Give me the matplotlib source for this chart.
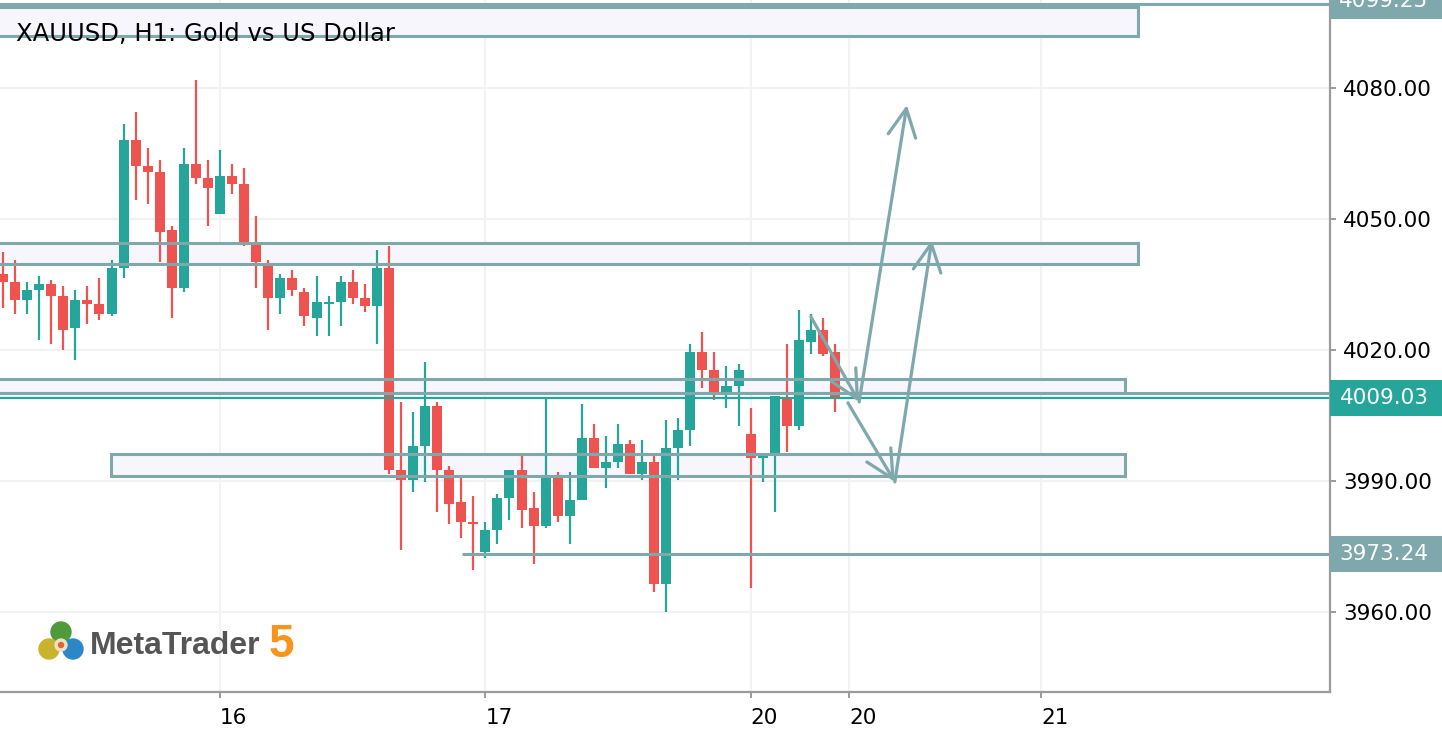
import matplotlib
matplotlib.use("Agg")
import matplotlib.pyplot as plt
import matplotlib.transforms as mtransforms
from matplotlib import font_manager
from matplotlib.patches import Rectangle, Circle
import numpy as np

# hourly candles XAUUSD H1
opens = [4037.4, 4035.6, 4031.5, 4033.7, 4035.1, 4032.4, 4025.0, 4031.5, 4030.5, 4028.2,
         4038.8, 4068.1, 4062.1, 4060.8, 4047.5, 4034.2, 4062.6, 4059.4, 4051.1, 4059.8,
         4058.0, 4044.5, 4039.2, 4031.9, 4036.5, 4033.3, 4027.3, 4030.5, 4031.0, 4035.6,
         4031.9, 4030.1, 4038.8, 3992.5, 3990.2, 3998.0, 4007.2, 3992.5, 3985.2, 3980.6,
         3973.7, 3978.8, 3986.1, 3992.5, 3983.8, 3979.7, 3990.7, 3982.0, 3985.7, 3999.9,
         3993.0, 3994.4, 3998.5, 3991.6, 3994.4, 3966.4, 3997.6, 4001.7, 4019.5, 4015.4,
         4010.4, 4011.8, 4000.8, 3995.3, 3996.2, 4009.0, 4002.6, 4021.8, 4024.6, 4019.5]
highs = [4042.4, 4040.6, 4035.6, 4037.0, 4036.0, 4034.7, 4033.7, 4034.7, 4036.5, 4040.6,
         4071.8, 4074.5, 4066.3, 4063.5, 4048.4, 4066.3, 4081.8, 4063.5, 4065.8, 4062.6,
         4061.7, 4050.7, 4040.6, 4037.4, 4038.3, 4034.2, 4037.0, 4032.4, 4037.0, 4038.3,
         4035.1, 4042.9, 4043.8, 4008.1, 4005.8, 4017.3, 4008.1, 3993.4, 3990.7, 3986.6,
         3980.6, 3987.0, 3992.5, 3995.7, 3987.5, 4009.0, 3992.1, 3992.1, 4007.6, 4003.1,
         4000.3, 4003.1, 3999.4, 3999.4, 3995.7, 4004.0, 4004.4, 4021.4, 4024.1, 4019.5,
         4016.3, 4016.8, 4006.7, 3995.7, 4009.5, 4021.4, 4029.2, 4028.2, 4027.3, 4021.4]
lows = [4029.6, 4028.2, 4028.2, 4022.3, 4021.4, 4020.0, 4017.7, 4026.0, 4026.9, 4027.8,
        4036.5, 4054.4, 4053.4, 4040.2, 4027.3, 4033.3, 4058.0, 4048.4, 4051.1, 4055.7,
        4043.8, 4034.2, 4024.6, 4028.2, 4032.4, 4025.5, 4023.2, 4023.2, 4025.5, 4030.5,
        4028.7, 4021.4, 3991.6, 3974.2, 3987.5, 3989.8, 3982.9, 3980.2, 3977.0, 3969.6,
        3972.4, 3975.6, 3981.1, 3979.2, 3971.0, 3979.2, 3980.6, 3975.6, 3985.7, 3993.0,
        3988.4, 3993.0, 3991.6, 3990.2, 3964.6, 3960.0, 3990.2, 3998.0, 4011.3, 4008.5,
        4006.7, 4002.6, 3965.5, 3989.8, 3982.9, 3996.6, 4001.7, 4019.1, 4018.6, 4005.8]
closes = [4035.6, 4031.5, 4033.7, 4035.1, 4032.4, 4024.6, 4031.5, 4030.5, 4028.2, 4038.8,
          4068.1, 4062.1, 4060.8, 4047.0, 4034.2, 4062.6, 4059.4, 4057.1, 4059.8, 4058.0,
          4044.5, 4040.2, 4031.9, 4036.5, 4033.7, 4027.8, 4031.0, 4031.0, 4035.6, 4031.9,
          4030.1, 4038.8, 3992.5, 3990.2, 3998.0, 4007.2, 3992.5, 3984.7, 3980.6, 3980.2,
          3978.8, 3986.1, 3992.5, 3983.4, 3979.7, 3990.7, 3982.0, 3985.7, 3999.9, 3993.0,
          3994.4, 3998.5, 3991.6, 3994.4, 3966.4, 3997.6, 4001.7, 4019.5, 4015.4, 4010.4,
          4011.8, 4015.4, 3995.3, 3995.7, 4009.5, 4002.6, 4022.3, 4024.6, 4019.1, 4009.03]

y_ticks = [3960, 3990, 4020, 4050, 4080]
x_tick_pos = [18, 40, 62, 70.16, 86.08]
x_tick_labels = ["16", "17", "20", "20", "21"]

# drawn objects: zones (left, right, bottom, top) and levels
zones = [(-5, 94.13, 4091.9, 4098.5),
         (-5, 94.13, 4039.7, 4044.5),
         (-5, 93.05, 4010.1, 4013.4),
         (8.96, 93.05, 3991.1, 3996.2)]
bid = 4009.03
level_low = 3973.24
level_low_start = 38.07
level_top = 4099.25
level_mid = 4010.1
arrows_a = [(67.0, 4027.6), (71.0, 4008.1), (74.96, 4076.1)]
arrows_b = [(70.07, 4007.9), (73.96, 3989.8), (77.03, 4045.2)]

GREEN = "#26a69a"
RED = "#ef5350"
LINE = "#7fa8ad"
FILL = "#f6f6fc"

W, H = 1442, 740
fig = plt.figure(figsize=(W / 100, H / 100), dpi=100)
ax = fig.add_axes([0, 48 / H, 1330 / W, 692 / H])
ax.set_xlim(-0.25, 110.05)
ax.set_ylim(3941.68, 4100.15)

# grid
ax.set_axisbelow(True)
ax.grid(True, color="#f2f2f2", lw=1.5)

# zone fills behind the candles
for x0, x1, y0, y1 in zones:
    ax.add_patch(Rectangle((x0, y0), x1 - x0, y1 - y0, facecolor=FILL,
                           edgecolor="none", zorder=1))

# candles
idx = np.arange(len(opens))
o = np.array(opens)
c = np.array(closes)
cols = [GREEN if cc >= oo else RED for oo, cc in zip(o, c)]
ax.vlines(idx, lows, highs, colors=cols, lw=1.6, zorder=2)
body = np.where(np.abs(c - o) < 0.5, 0.5, np.abs(c - o))
ax.bar(idx, body, bottom=np.minimum(o, c), width=0.83, color=cols, zorder=3)

# zone outlines
for x0, x1, y0, y1 in zones:
    ax.add_patch(Rectangle((x0, y0), x1 - x0, y1 - y0, facecolor="none",
                           edgecolor=LINE, lw=2.2, zorder=4))

ax.axhline(level_top, color=LINE, lw=2.2, zorder=4)
ax.axhline(level_mid, color=LINE, lw=2.2, zorder=4)
ax.axhline(bid, color=GREEN, lw=1.6, zorder=4)
ax.hlines(level_low, level_low_start, 111, color=LINE, lw=2.2, zorder=4)

# projected path arrows
for path in (arrows_a, arrows_b):
    for p0, p1 in zip(path[:-1], path[1:]):
        ax.annotate("", xy=p1, xytext=p0,
                    arrowprops=dict(arrowstyle="->,head_length=1.0,head_width=0.5",
                                    color=LINE, lw=2.3, shrinkA=0, shrinkB=0,
                                    mutation_scale=20),
                    zorder=5)

# axes styling
for s in ["top", "left"]:
    ax.spines[s].set_visible(False)
for s in ["right", "bottom"]:
    ax.spines[s].set_color("#9b9b9b")
    ax.spines[s].set_linewidth(1.6)
    ax.spines[s].set_zorder(6)

ax.yaxis.tick_right()
ax.set_yticks(y_ticks)
ax.set_yticklabels([f"{v:.2f}" for v in y_ticks])
ax.tick_params(axis="y", length=4.3, width=1.4, color="#9b9b9b", pad=5,
               labelsize=15.5, labelcolor="black")
ax.set_xticks(x_tick_pos)
ax.set_xticklabels(x_tick_labels)
for t in ax.get_xticklabels():
    t.set_horizontalalignment("left")
ax.tick_params(axis="x", length=4.3, width=1.4, color="#9b9b9b", pad=7,
               labelsize=15.5, labelcolor="black")

# price tags on the right scale
tr = mtransforms.blended_transform_factory(fig.transFigure, ax.transData)
tag_h = 36 / 4.3667
for price, col in [(bid, GREEN), (level_low, LINE), (level_top + 0.7, LINE)]:
    ax.add_patch(Rectangle((1330 / W, price - tag_h / 2), 1 - 1330 / W, tag_h,
                           transform=tr, facecolor=col, edgecolor="none",
                           clip_on=False, zorder=7))
for price, label in [(bid, f"{bid:.2f}"), (level_low, f"{level_low:.2f}"),
                     (level_top + 0.7, f"{level_top:.2f}")]:
    ax.text(1384 / W, price, label, transform=tr, ha="center", va="center",
            color="white", fontsize=15.5, clip_on=False, zorder=8)

# title
fig.text(16 / W, 1 - 41 / H, "XAUUSD, H1: Gold vs US Dollar", fontsize=17.5,
         color="black", va="baseline", ha="left")

# MetaTrader 5 logo
names = {f.name for f in font_manager.fontManager.ttflist}
if "Liberation Sans Narrow" in names:
    fam, sz = "Liberation Sans Narrow", 27
else:
    fam, sz = "Liberation Sans", 23
fig.text(90 / W, 1 - 654 / H, "MetaTrader", fontsize=sz, family=fam,
         weight="bold", color="#555555", va="baseline")
fig.text(269 / W, 1 - 657 / H, "5", fontsize=33, family="Liberation Sans",
         weight="bold", color="#f7941d", va="baseline")

ax_icon = fig.add_axes([38 / W, 1 - 664 / H, 46 / W, 46 / H])
ax_icon.set_xlim(0, 46)
ax_icon.set_ylim(0, 46)
ax_icon.set_aspect("equal")
ax_icon.axis("off")
ax_icon.add_patch(Circle((23, 32), 10, color="#4f9b3b"))
ax_icon.add_patch(Circle((11, 15), 10, color="#c8b42c"))
ax_icon.add_patch(Circle((35, 15), 10, color="#2b87c5"))
ax_icon.add_patch(Circle((23, 19), 6, color="#e9e2c8"))
ax_icon.add_patch(Circle((23, 19), 2.5, color="#e8622c"))

fig.savefig("out.png", dpi=100)
